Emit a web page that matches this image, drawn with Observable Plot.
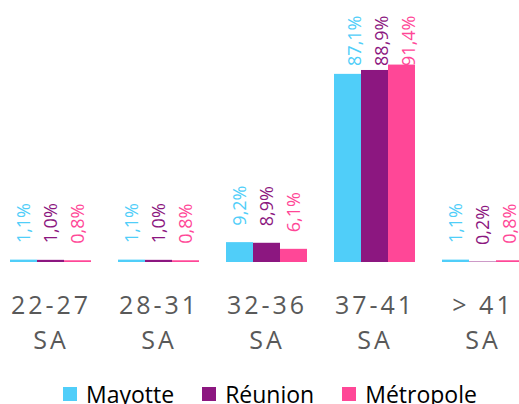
<!DOCTYPE html>
<html><head><meta charset="utf-8">
<script src="https://cdn.jsdelivr.net/npm/d3@7"></script>
<script src="https://cdn.jsdelivr.net/npm/@observablehq/plot@0.6"></script>
<style>
html,body{margin:0;padding:0;overflow:hidden;background:#fff;}
#legend{display:flex;align-items:flex-start;padding-left:63px;margin-top:6.5px;font-family:"Open Sans",sans-serif;font-size:23px;color:#000;line-height:34px;height:34px;white-space:nowrap;}
.item{display:flex;align-items:flex-start;margin-right:28px}
.sw{width:14px;height:14px;margin-right:9px;margin-top:10.5px}
</style></head><body><div id="chart"></div><div id="legend"></div>
<script>
const categories = ["22-27 SA", "28-31 SA", "32-36 SA", "37-41 SA", "> 41 SA"];
const tickLabels = ["22-27\nSA", "28-31\nSA", "32-36\nSA", "37-41\nSA", "> 41\nSA"];
const series = ["Mayotte", "Réunion", "Métropole"];
const colors = ["#50CEF9", "#8C1780", "#FF4797"];
const mayotte = [1.1, 1.1, 9.2, 87.1, 1.1];
const reunion = [1.0, 1.0, 8.9, 88.9, 0.2];
const metropole = [0.8, 0.8, 6.1, 91.4, 0.8];
const tallCategory = "37-41 SA";

const values = [mayotte, reunion, metropole];
const data = categories.flatMap((c, i) => series.map((s, j) => ({cat: c, series: s, value: values[j][i]})));
const fmt = d => d.value.toFixed(1).replace(".", ",") + "%";

const H = 370;
const plot = Plot.plot({
  width: 519, height: H,
  marginTop: 46, marginBottom: H - 262, marginLeft: 0, marginRight: 0,
  fx: {domain: categories, range: [-4.2, 537.3], paddingInner: 0.25, paddingOuter: 0.125, axis: null, label: null},
  x: {domain: series, padding: 0, axis: null},
  y: {domain: [0, 100], axis: null},
  color: {domain: series, range: colors},
  style: {fontFamily: "Open Sans", background: "white"},
  marks: [
    Plot.barY(data, {fx: "cat", x: "series", y: "value", fill: "series"}),
    Plot.text(data.filter(d => d.cat !== tallCategory), {fx: "cat", x: "series", y: "value", text: fmt, fill: "series", rotate: -90, textAnchor: "start", dy: -17, fontSize: 18}),
    Plot.text(data.filter(d => d.cat === tallCategory), {fx: "cat", x: "series", frameAnchor: "top", text: fmt, fill: "series", rotate: -90, textAnchor: "end", dy: -31, fontSize: 18}),
    Plot.text(categories, {fx: d => d, frameAnchor: "bottom", text: (d, i) => tickLabels[i], lineAnchor: "top", dy: 26, fontSize: 25, lineHeight: 1.41, fill: "#595959"})
  ]
});
const tickSet = new Set(tickLabels.map(t => t.replace("\n", "")));
d3.select(plot).selectAll("text").each(function() {
  if (tickSet.has(this.textContent)) this.style.letterSpacing = "3px";
});
document.getElementById("chart").appendChild(plot);

const legend = document.getElementById("legend");
series.forEach((s, i) => {
  const item = document.createElement("div");
  item.className = "item";
  const sw = document.createElement("span");
  sw.className = "sw";
  sw.style.background = colors[i];
  const t = document.createElement("span");
  t.textContent = s;
  item.appendChild(sw); item.appendChild(t);
  legend.appendChild(item);
});
</script>
</body></html>
